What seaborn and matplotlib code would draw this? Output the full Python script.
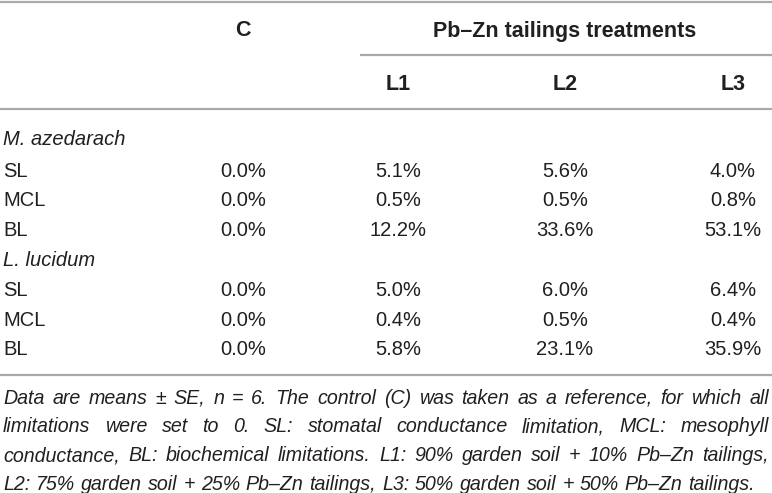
import pandas as pd
import matplotlib.pyplot as plt
import seaborn as sns

# table contents
species = ['M. azedarach', 'L. lucidum']
limitations = ['SL', 'MCL', 'BL']
control = [0.0, 0.0, 0.0, 0.0, 0.0, 0.0]
l1 = [5.1, 0.5, 12.2, 5.0, 0.4, 5.8]
l2 = [5.6, 0.5, 33.6, 6.0, 0.5, 23.1]
l3 = [4.0, 0.8, 53.1, 6.4, 0.4, 35.9]
col_labels = ['C', 'L1', 'L2', 'L3']
group_label = 'Pb\u2013Zn tailings treatments'
footnote = [
    'Data are means \u00b1 SE, n = 6. The control (C) was taken as a reference, for which all',
    'limitations were set to 0. SL: stomatal conductance limitation, MCL: mesophyll',
    'conductance, BL: biochemical limitations. L1: 90% garden soil + 10% Pb\u2013Zn tailings,',
    'L2: 75% garden soil + 25% Pb\u2013Zn tailings, L3: 50% garden soil + 50% Pb\u2013Zn tailings.',
]

df = pd.DataFrame({
    'species': [s for s in species for _ in limitations],
    'limit': limitations * len(species),
    'C': control, 'L1': l1, 'L2': l2, 'L3': l3,
})

sns.set_theme(style='white')
plt.rcParams['font.family'] = ['Liberation Sans', 'DejaVu Sans']

W, H = 772, 493
fig = plt.figure(figsize=(W / 100, H / 100), dpi=100)
ax = fig.add_axes([0, 0, 1, 1])
ax.set_xlim(0, W)
ax.set_ylim(H, 0)
ax.axis('off')

txt = '#231f20'
rule = '#a7a9ac'
fs = 14.5
hfs = 15.5
col_x = {'C': 243, 'L1': 398, 'L2': 565, 'L3': 733}

# rules
ax.hlines([1.5, 109, 375], 0, W, color=rule, lw=1.6)
ax.hlines(55, 360, W, color=rule, lw=1.6)

# headers
ax.text(col_x['C'], 36.5, col_labels[0], ha='center', va='baseline',
        fontsize=hfs, fontweight='bold', color=txt)
ax.text(565, 36.5, group_label, ha='center', va='baseline',
        fontsize=hfs, fontweight='bold', color=txt)
for c in col_labels[1:]:
    ax.text(col_x[c], 90.5, c, ha='center', va='baseline',
            fontsize=hfs, fontweight='bold', color=txt)

# body
y = 145
for sp in species:
    ax.text(3, y, sp, ha='left', va='baseline', fontsize=fs,
            style='italic', color=txt)
    y += 32 if sp == species[0] else 30
    sub = df[df['species'] == sp]
    for _, row in sub.iterrows():
        ax.text(3, y, row['limit'], ha='left', va='baseline',
                fontsize=fs, color=txt)
        for c in col_labels:
            ax.text(col_x[c], y, f'{row[c]:.1f}%', ha='center',
                    va='baseline', fontsize=fs, color=txt)
        y += 29.5
    y -= 29.5
    y += 30

# justified footnote, font size fitted so the last line ends where it does
fig.canvas.draw()
renderer = fig.canvas.get_renderer()
fam = ['Liberation Sans Narrow', 'Liberation Sans']
left, right, last_end = 3, 769, 755
probe = ax.text(0, 0, footnote[-1], fontsize=10, style='italic', family=fam)
nfs = 10 * (last_end - left) / probe.get_window_extent(renderer).width
probe.remove()

fy = 404
for i, line in enumerate(footnote):
    words = line.split(' ')
    objs = [ax.text(0, fy, w, ha='left', va='baseline', fontsize=nfs,
                    style='italic', color=txt, family=fam)
            for w in words]
    widths = [o.get_window_extent(renderer).width for o in objs]
    if i < len(footnote) - 1:
        gap = (right - left - sum(widths)) / (len(words) - 1)
    else:
        gap = (last_end - left - sum(widths)) / (len(words) - 1)
    x = left
    for o, w in zip(objs, widths):
        o.set_x(x)
        x += w + gap
    fy += 28.5

fig.savefig('out.png', dpi=100)
